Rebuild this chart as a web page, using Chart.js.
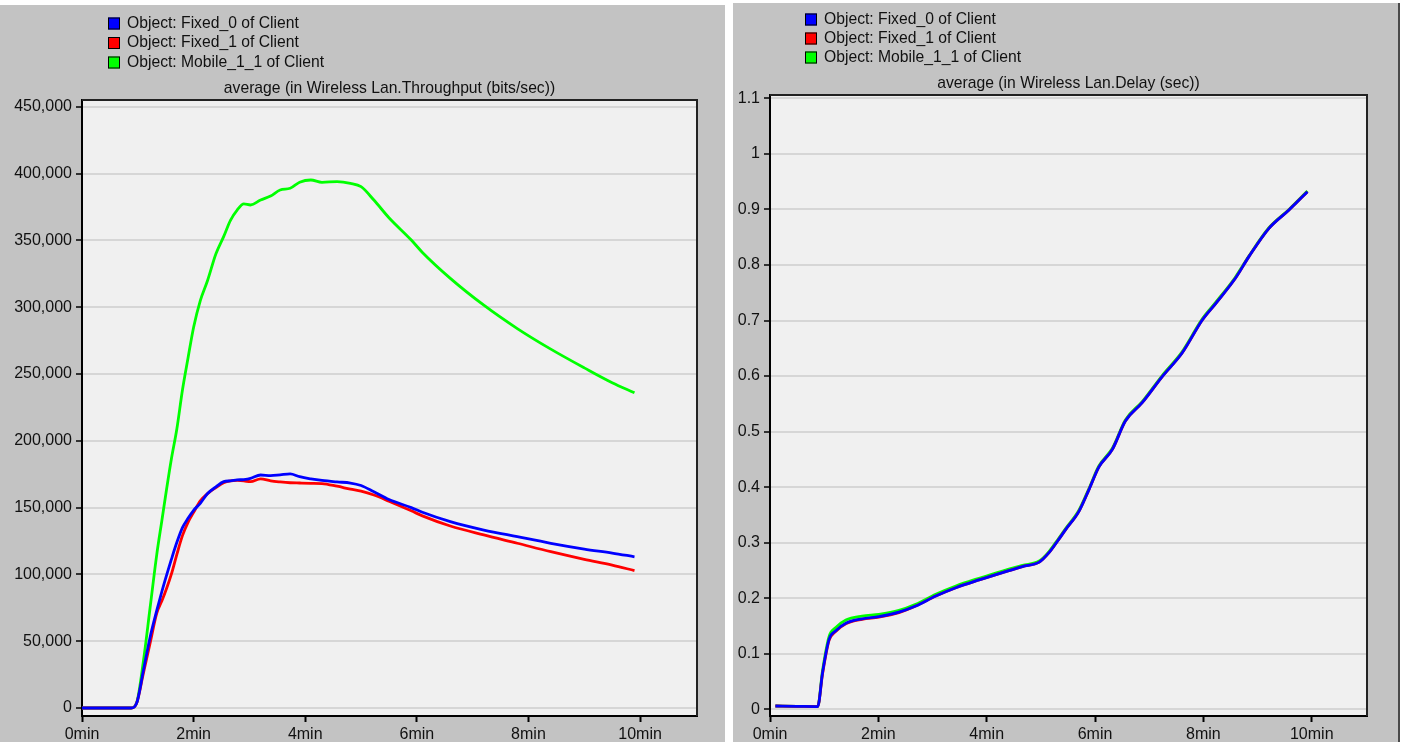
<!DOCTYPE html>
<html>
<head>
<meta charset="utf-8">
<title>Wireless LAN throughput and delay</title>
<script src="https://cdn.jsdelivr.net/npm/chart.js@4.4.0/dist/chart.umd.min.js"></script>
<style>
    body { margin: 0; background: #fff; width: 1405px; height: 742px; overflow: hidden; position: relative; }
    .panel { position: absolute; background: #c3c3c3; }
    #leftPanel { left: 0; top: 5px; width: 725px; height: 737px; }
    #rightPanel { left: 733px; top: 3px; width: 665px; height: 739px; border-right: 2px solid #4a4a4a; }
    canvas { display: block; }
</style>
</head>
<body>
<div class="panel" id="leftPanel"><canvas id="throughputChart" width="725" height="737"></canvas></div>
<div class="panel" id="rightPanel"><canvas id="delayChart" width="665" height="739"></canvas></div>
<script>
// Series names (same three objects in both panels)
const seriesNames = ['Object: Fixed_0 of Client', 'Object: Fixed_1 of Client', 'Object: Mobile_1_1 of Client'];
const seriesColors = ['#0000ff', '#ff0000', '#00ff00'];

// Tick labels
const timeTicks = [0, 2, 4, 6, 8, 10];
const throughputTicks = [0, 50000, 100000, 150000, 200000, 250000, 300000, 350000, 400000, 450000];
const delayTicks = [0, 0.1, 0.2, 0.3, 0.4, 0.5, 0.6, 0.7, 0.8, 0.9, 1, 1.1];

// Throughput (bits/sec), time in minutes
const throughputTimes = [0, 0.5, 0.88, 0.98, 1.1, 1.22, 1.34, 1.43, 1.52, 1.6, 1.7, 1.8, 1.9, 2.0, 2.12, 2.25, 2.4, 2.54, 2.66, 2.78, 2.9,
    3.02, 3.2, 3.38, 3.55, 3.73, 3.9, 4.1, 4.3, 4.57, 4.81, 5.0, 5.23, 5.5, 5.9, 6.1, 6.6, 7.2, 7.8, 8.4, 9.0, 9.5, 9.9];
const fixed0Throughput = [0, 0, 0, 3700, 28000, 53000, 73000, 87000, 100000, 111000, 124000, 135000, 142000, 148000, 153200, 160500, 165500, 169400, 170000, 170700, 171000,
    171900, 174400, 173900, 174500, 175200, 173100, 171500, 170300, 169200, 168400, 166500, 161800, 156000, 150000, 146500, 139500, 133200, 128200, 123300, 119000, 116000, 113200];
const fixed1Throughput = [0, 0, 0, 3700, 26000, 48500, 71000, 80000, 90000, 100000, 115000, 129000, 139000, 146500, 155000, 160500, 165000, 168700, 170000, 170300, 170000,
    169400, 171500, 170000, 169200, 168600, 168400, 168200, 168000, 166000, 163800, 162300, 159400, 154800, 147600, 143800, 136200, 129500, 123300, 117000, 111300, 107000, 102800];
const mobileThroughput = [0, 0, 0, 4000, 35000, 75000, 115000, 140000, 165000, 186000, 209000, 238000, 262000, 285000, 305000, 320000, 340000, 353000, 365000, 372700, 377300,
    376500, 380200, 383200, 387700, 389000, 393500, 395200, 393500, 394000, 392700, 390200, 380200, 367000, 350300, 341000, 321600, 301500, 284000, 268600, 254600, 243500, 236000];

// Delay (sec), time in minutes
const delayTimes = [0.1, 0.5, 0.88, 0.97, 1.09, 1.21, 1.4, 1.7, 2.01, 2.38, 2.69, 3.06, 3.43, 3.86, 4.29, 4.66, 4.97, 5.15, 5.33, 5.46,
    5.7, 5.89, 6.07, 6.32, 6.56, 6.87, 7.24, 7.61, 7.98, 8.23, 8.59, 8.84, 9.21, 9.58, 9.92];
const fixed0Delay = [0.006, 0.0055, 0.005, 0.066, 0.126, 0.141, 0.155, 0.163, 0.167, 0.175, 0.186, 0.204, 0.219, 0.233, 0.246, 0.257, 0.265, 0.282, 0.306, 0.324,
    0.356, 0.396, 0.436, 0.468, 0.519, 0.552, 0.599, 0.642, 0.701, 0.731, 0.776, 0.815, 0.866, 0.899, 0.932];
const fixed1Delay = [0.006, 0.0055, 0.005, 0.064, 0.124, 0.140, 0.154, 0.162, 0.166, 0.174, 0.186, 0.204, 0.219, 0.233, 0.246, 0.257, 0.265, 0.282, 0.306, 0.324,
    0.356, 0.396, 0.436, 0.468, 0.519, 0.552, 0.599, 0.642, 0.701, 0.731, 0.776, 0.815, 0.866, 0.899, 0.932];
const mobileDelay = [0.006, 0.0055, 0.005, 0.070, 0.131, 0.147, 0.161, 0.168, 0.171, 0.178, 0.189, 0.207, 0.222, 0.236, 0.249, 0.259, 0.267, 0.284, 0.308, 0.326,
    0.358, 0.398, 0.438, 0.470, 0.521, 0.554, 0.601, 0.644, 0.703, 0.733, 0.778, 0.816, 0.867, 0.900, 0.933];

const FONT = '"Liberation Sans", Arial, sans-serif';
const TEXT_COLOR = '#111';

// Pair a time array with a value array
const toPoints = (times, values) => times.map((t, i) => ({x: t, y: values[i]}));

const makeDatasets = (times, seriesValues) => seriesValues.map((values, i) => ({
    label: seriesNames[i],
    data: toPoints(times, values),
    borderColor: seriesColors[i],
    backgroundColor: seriesColors[i],
    borderWidth: 2.8,
    pointRadius: 0,
    cubicInterpolationMode: 'monotone',
    fill: false,
}));

// Plot background, top/right frame, stacked legend and title above the plot
const panelPlugin = {
    id: 'panel',
    beforeDraw(chart) {
        const {ctx, chartArea: a} = chart;
        ctx.save();
        ctx.fillStyle = '#f0f0f0';
        ctx.fillRect(a.left, a.top, a.right - a.left, a.bottom - a.top);
        ctx.restore();
    },
    afterDraw(chart, args, opts) {
        const {ctx, chartArea: a} = chart;
        ctx.save();
        ctx.strokeStyle = '#222';
        ctx.lineWidth = 2;
        ctx.beginPath();
        ctx.moveTo(a.left, a.top);
        ctx.lineTo(a.right, a.top);
        ctx.lineTo(a.right, a.bottom);
        ctx.stroke();

        ctx.font = '15.7px ' + FONT;
        ctx.textBaseline = 'middle';
        ctx.textAlign = 'left';
        chart.data.datasets.forEach((ds, i) => {
            const y = opts.legendY + i * opts.rowHeight;
            ctx.fillStyle = ds.borderColor;
            ctx.fillRect(opts.legendX, y - 6, 12, 12);
            ctx.strokeStyle = '#000';
            ctx.lineWidth = 1;
            ctx.strokeRect(opts.legendX + 0.5, y - 5.5, 11, 11);
            ctx.fillStyle = TEXT_COLOR;
            ctx.fillText(ds.label, opts.legendX + 19, y);
        });

        ctx.textAlign = 'center';
        ctx.fillText(opts.title, (a.left + a.right) / 2, opts.titleY);
        ctx.restore();
    },
};

const makeOptions = (cfg) => ({
    responsive: false,
    animation: false,
    devicePixelRatio: 1,
    layout: {padding: {top: cfg.top, right: cfg.right, bottom: 0, left: 0}},
    plugins: {
        legend: {display: false},
        tooltip: {enabled: false},
        panel: cfg.panel,
    },
    scales: {
        x: {
            type: 'linear',
            min: 0,
            max: 11.02,
            afterFit: (s) => { s.height = cfg.xHeight; },
            afterBuildTicks: (s) => { s.ticks = timeTicks.map((v) => ({value: v})); },
            ticks: {
                autoSkip: false,
                maxRotation: 0,
                padding: 3,
                color: TEXT_COLOR,
                font: {family: FONT, size: 16},
                callback: (v) => v + 'min',
            },
            grid: {drawOnChartArea: false, drawTicks: true, tickLength: 6, tickColor: '#000', tickWidth: 2},
            border: {display: true, color: '#000', width: 2},
        },
        y: {
            type: 'linear',
            min: cfg.yMin,
            max: cfg.yMax,
            afterFit: (s) => { s.width = cfg.yWidth; },
            afterBuildTicks: (s) => { s.ticks = cfg.yTicks.map((v) => ({value: v})); },
            ticks: {
                padding: 4,
                color: TEXT_COLOR,
                font: {family: FONT, size: 16},
                callback: cfg.yFormat,
            },
            grid: {color: '#d6d6d6', lineWidth: 2, tickLength: 6, tickColor: '#000', tickWidth: 1.5},
            border: {display: true, color: '#000', width: 2},
        },
    },
});

new Chart(document.getElementById('throughputChart').getContext('2d'), {
    type: 'line',
    data: {datasets: makeDatasets(throughputTimes, [fixed0Throughput, fixed1Throughput, mobileThroughput])},
    options: makeOptions({
        top: 95, right: 28, xHeight: 26, yWidth: 82,
        yMin: -6000, yMax: 455100,
        yTicks: throughputTicks,
        yFormat: (v) => v.toLocaleString('en-US'),
        panel: {legendX: 108, legendY: 18.5, rowHeight: 19.5, titleY: 84, title: 'average (in Wireless Lan.Throughput (bits/sec))'},
    }),
    plugins: [panelPlugin],
});

new Chart(document.getElementById('delayChart').getContext('2d'), {
    type: 'line',
    data: {datasets: makeDatasets(delayTimes, [fixed0Delay, fixed1Delay, mobileDelay])},
    options: makeOptions({
        top: 92, right: 31, xHeight: 26, yWidth: 37,
        yMin: -0.012, yMax: 1.106,
        yTicks: delayTicks,
        yFormat: (v) => String(v),
        panel: {legendX: 72, legendY: 16.5, rowHeight: 19, titleY: 81, title: 'average (in Wireless Lan.Delay (sec))'},
    }),
    plugins: [panelPlugin],
});
</script>
</body>
</html>
